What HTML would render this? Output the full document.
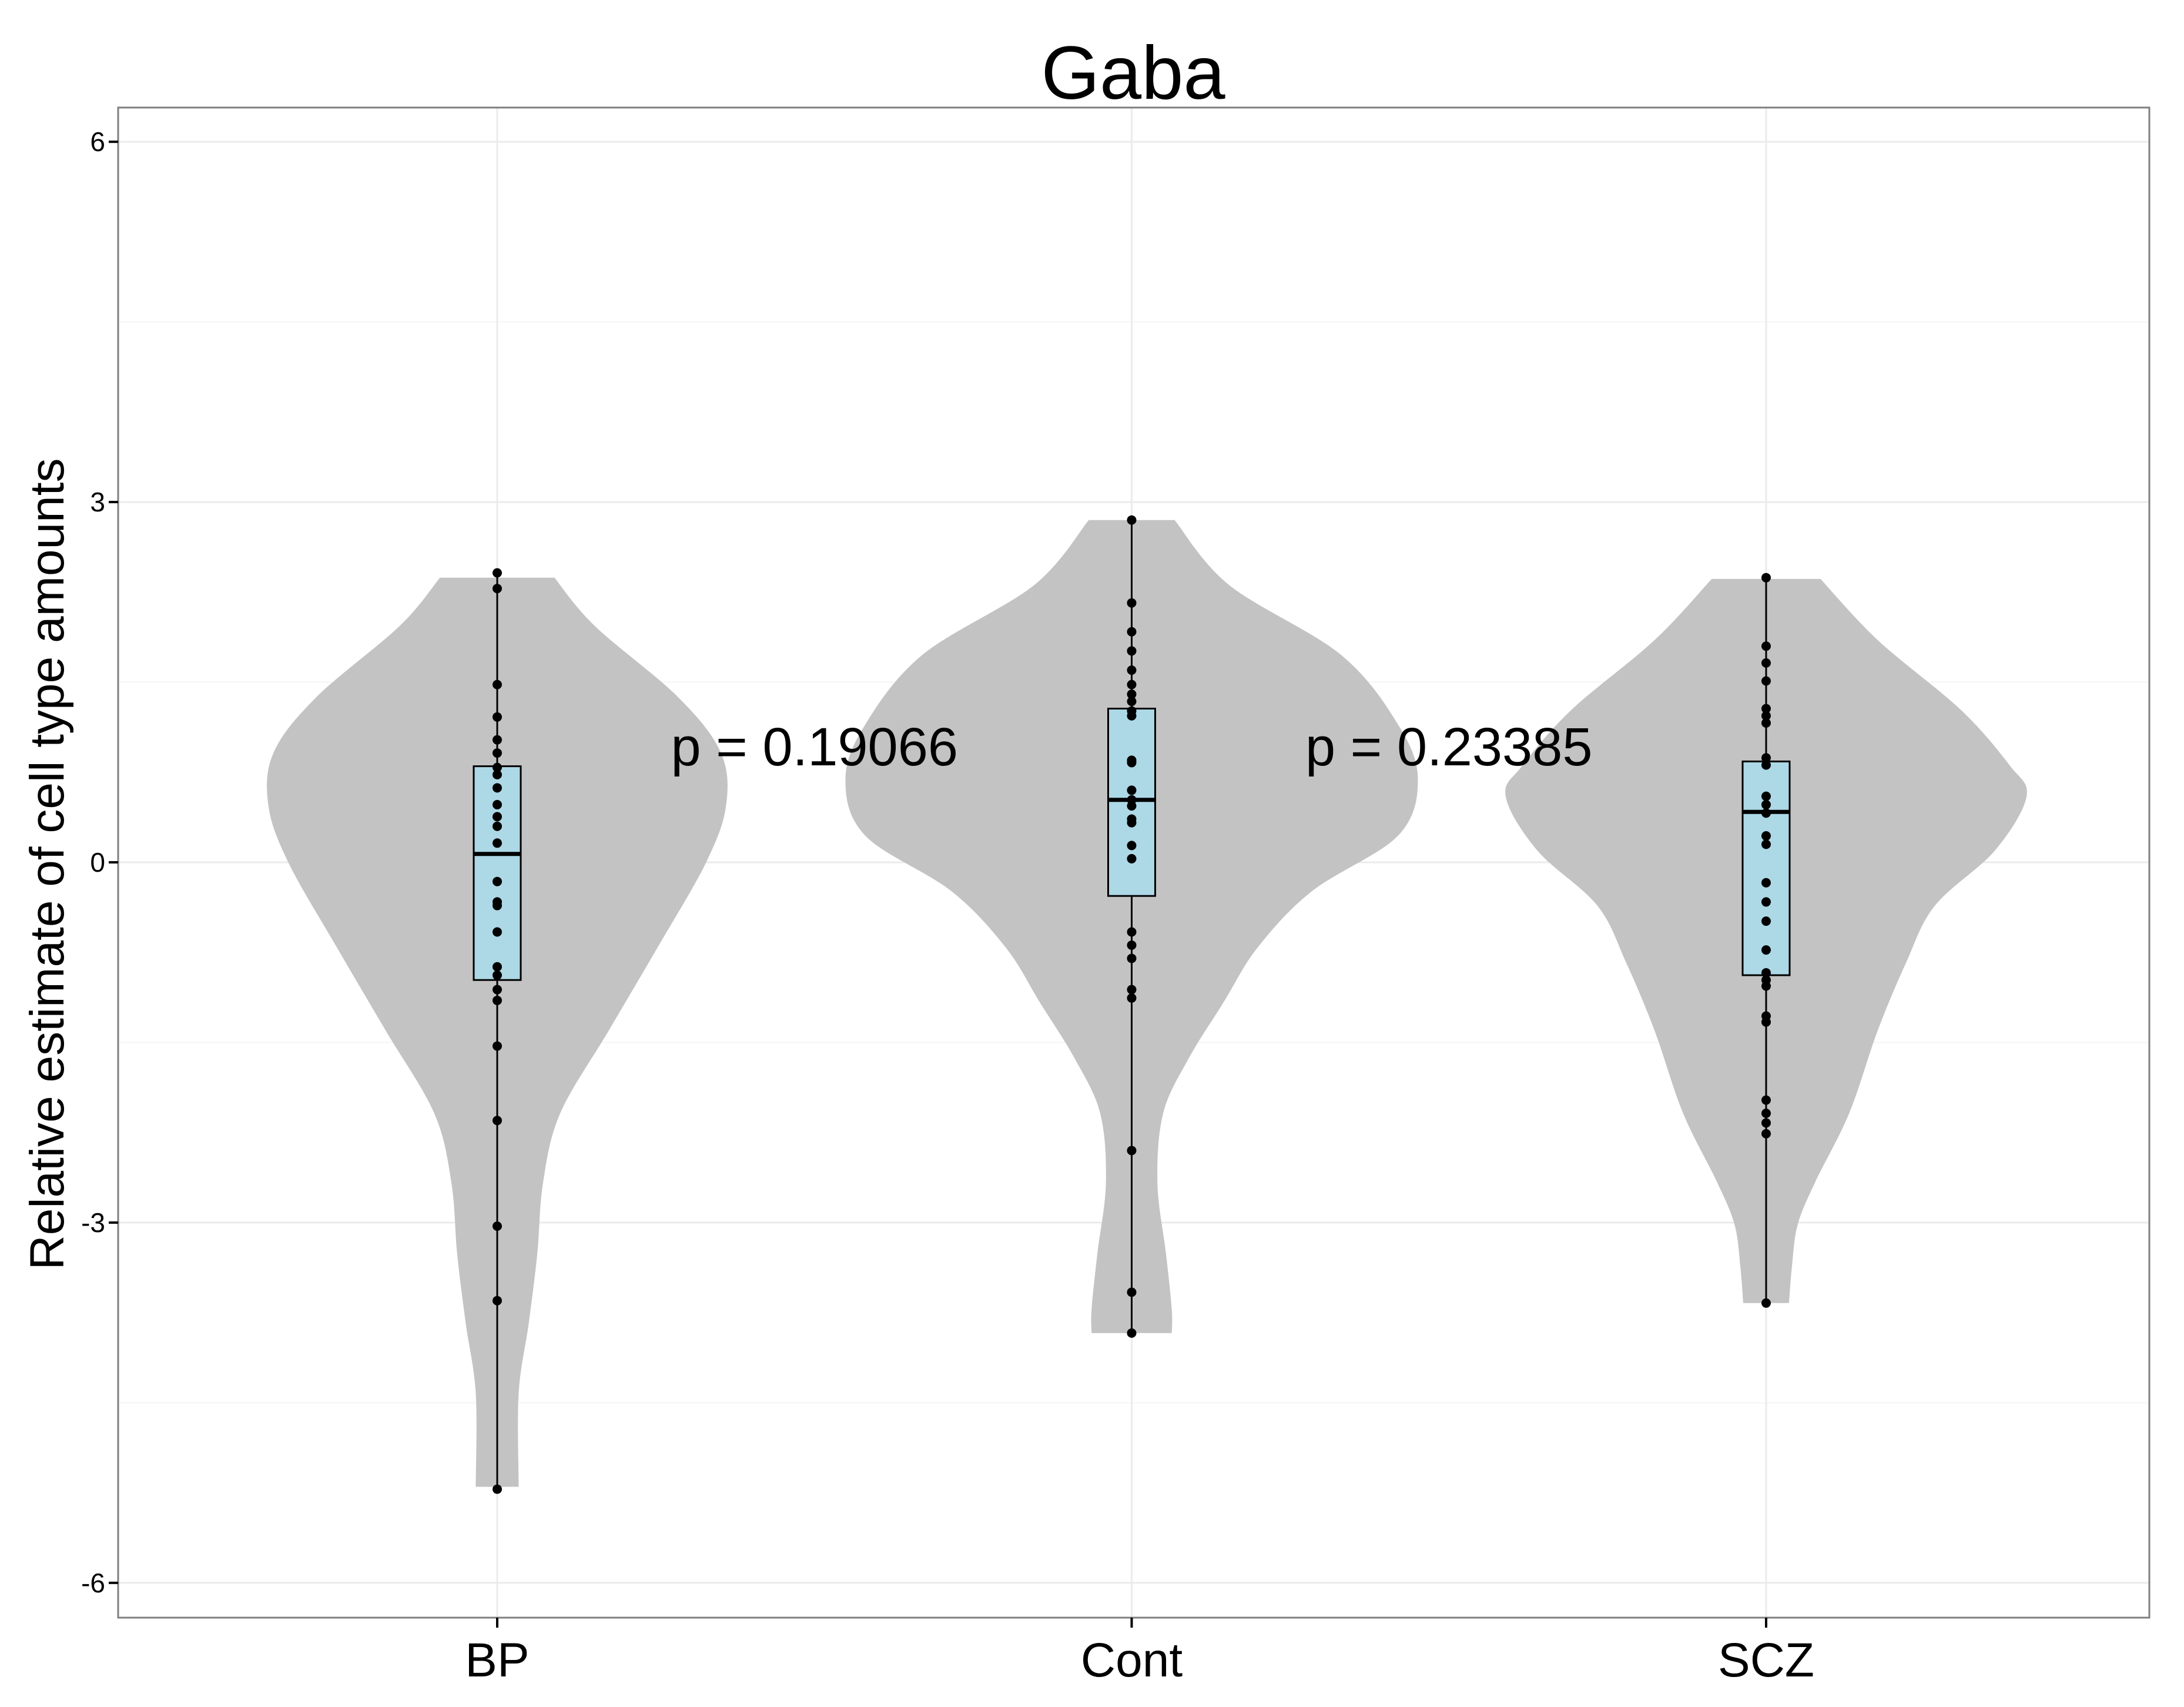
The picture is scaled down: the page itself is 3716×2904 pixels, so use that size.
<!DOCTYPE html>
<html><head><meta charset="utf-8"><style>
html,body{margin:0;padding:0;background:#fff;}
svg{display:block;font-family:"Liberation Sans",Arial,sans-serif;}
</style></head><body>
<svg id="chart" width="3716" height="2904" viewBox="0 0 3716 2904" xmlns="http://www.w3.org/2000/svg">
<rect x="0" y="0" width="3716" height="2904" fill="#fff"/>
<g id="grid"></g>
<g id="marks"></g>
<rect x="201" y="183" width="3456" height="2569" fill="none" stroke="#7f7f7f" stroke-width="3"/>
<g id="axes"></g>
<text x="1928" y="168" font-size="128" text-anchor="middle">Gaba</text>
<text transform="translate(108,1470) rotate(-90)" font-size="82" text-anchor="middle">Relative estimate of cell type amounts</text>
</svg>
<script>
const categories = ["BP","Cont","SCZ"];
const yTicks = [-6,-3,0,3,6];
const yMinor = [-4.5,-1.5,1.5,4.5];
const pLabels = ["p = 0.19066","p = 0.23385"];
const pLabelY = [0.97,0.97];
const pointsBP = [2.41,2.28,1.48,1.21,1.02,0.91,0.79,0.73,0.62,0.48,0.38,0.30,0.16,-0.16,-0.33,-0.36,-0.58,-0.87,-0.94,-1.06,-1.15,-1.53,-2.15,-3.03,-3.65,-5.22];
const pointsCont = [2.85,2.16,1.92,1.76,1.60,1.48,1.40,1.34,1.26,1.22,0.85,0.83,0.60,0.52,0.47,0.36,0.33,0.14,0.03,-0.58,-0.69,-0.80,-1.06,-1.13,-2.40,-3.58,-3.92];
const pointsSCZ = [2.37,1.80,1.66,1.51,1.28,1.22,1.16,0.87,0.81,0.55,0.48,0.41,0.22,0.15,-0.17,-0.33,-0.49,-0.73,-0.92,-0.98,-1.03,-1.28,-1.33,-1.98,-2.09,-2.17,-2.26,-3.67];
const boxQ1 = [-0.98,-0.28,-0.94];
const boxMedian = [0.07,0.52,0.42];
const boxQ3 = [0.80,1.28,0.84];
// violin density profiles: [value, relative density]
const densBP = [[2.37,0.20],[1.97,0.34],[1.38,0.63],[0.92,0.78],[0.48,0.80],[0,0.73],[-0.71,0.56],[-1.4,0.39],[-2.09,0.22],[-2.67,0.16],[-3.26,0.14],[-3.84,0.11],[-4.42,0.075],[-5.2,0.075]];
const densCont = [[2.85,0.15],[2.31,0.34],[1.73,0.73],[1.15,0.93],[0.69,1.0],[0.22,0.93],[-0.24,0.63],[-0.71,0.44],[-1.17,0.32],[-1.63,0.2],[-2.09,0.11],[-2.67,0.09],[-3.26,0.12],[-3.72,0.14],[-3.92,0.14]];
const densSCZ = [[2.36,0.19],[1.85,0.39],[1.27,0.68],[0.81,0.85],[0.55,0.91],[0.1,0.80],[-0.36,0.59],[-0.83,0.49],[-1.4,0.39],[-2.09,0.29],[-2.67,0.17],[-3.02,0.11],[-3.37,0.09],[-3.67,0.08]];

const NS="http://www.w3.org/2000/svg";
const L=201,R=3657,T=183,B=2752;
function xPos(i){return 846+i*1079.5;}
function yPos(v){return 1467-204.3*v;}
const maxHalf=487;
function mk(tag,attrs,parent){const e=document.createElementNS(NS,tag);for(const k in attrs)e.setAttribute(k,attrs[k]);parent.appendChild(e);return e;}
const grid=document.getElementById('grid'),marks=document.getElementById('marks'),axes=document.getElementById('axes');
mk('rect',{x:L,y:T,width:R-L,height:B-T,fill:'#fff'},grid);
yMinor.forEach(v=>{const l=mk('line',{x1:L,x2:R,y1:yPos(v),y2:yPos(v),stroke:'#f5f5f5','stroke-width':2},grid);

});
yTicks.forEach(v=>{const l=mk('line',{x1:L,x2:R,y1:yPos(v),y2:yPos(v),stroke:'#ebebeb','stroke-width':3},grid);


const t=mk('line',{x1:L-16,x2:L,y1:yPos(v),y2:yPos(v),stroke:'#000','stroke-width':4},axes);


const tx=mk('text',{x:L-22,y:yPos(v)+16,'font-size':46,'text-anchor':'end'},axes);tx.textContent=v;

});
categories.forEach((c,i)=>{const l=mk('line',{x1:xPos(i),x2:xPos(i),y1:T,y2:B,stroke:'#ebebeb','stroke-width':3},grid);


const t=mk('line',{x1:xPos(i),x2:xPos(i),y1:B,y2:B+17,stroke:'#000','stroke-width':4},axes);


const tx=mk('text',{x:xPos(i),y:B+100,'font-size':82,'text-anchor':'middle'},axes);tx.textContent=c;

});
function smooth(pts){let d='M'+pts[0][0]+','+pts[0][1];for(let i=0;i<pts.length-1;i++){const p0=pts[Math.max(0,i-1)],p1=pts[i],p2=pts[i+1],p3=pts[Math.min(pts.length-1,i+2)];
const c1=[p1[0]+(p2[0]-p0[0])/6,p1[1]+(p2[1]-p0[1])/6],c2=[p2[0]-(p3[0]-p1[0])/6,p2[1]-(p3[1]-p1[1])/6];
d+=' C'+c1[0]+','+c1[1]+' '+c2[0]+','+c2[1]+' '+p2[0]+','+p2[1];}return d;}
const dens=[densBP,densCont,densSCZ],pts=[pointsBP,pointsCont,pointsSCZ];
categories.forEach((c,i)=>{const cx=xPos(i);
const right=dens[i].map(d=>[cx+d[1]*maxHalf,yPos(d[0])]);
const left=dens[i].slice().reverse().map(d=>[cx-d[1]*maxHalf,yPos(d[0])]);
let d=smooth(right)+' L'+left[0][0]+','+left[0][1]+smooth(left).replace(/^M[^ ]+/,'')+' Z';
const v=mk('path',{d:d,fill:'#c3c3c3'},marks);


const mx=Math.max(...pts[i]),mn=Math.min(...pts[i]);
const w=mk('line',{x1:cx,x2:cx,y1:yPos(mx),y2:yPos(mn),stroke:'#000','stroke-width':3},marks);


const bx=mk('rect',{x:cx-40,y:yPos(boxQ3[i]),width:80,height:yPos(boxQ1[i])-yPos(boxQ3[i]),fill:'#add8e6',stroke:'#000','stroke-width':3},marks);


const md=mk('line',{x1:cx-40,x2:cx+40,y1:yPos(boxMedian[i]),y2:yPos(boxMedian[i]),stroke:'#000','stroke-width':7},marks);


pts[i].forEach(p=>{const ci=mk('circle',{cx:cx,cy:yPos(p),r:8,fill:'#000'},marks);

});});
pLabels.forEach((t,i)=>{const tx=mk('text',{x:(xPos(i)+xPos(i+1))/2,y:yPos(pLabelY[i])+33,'font-size':92,'text-anchor':'middle'},marks);tx.textContent=t;

});
</script>
</body></html>
